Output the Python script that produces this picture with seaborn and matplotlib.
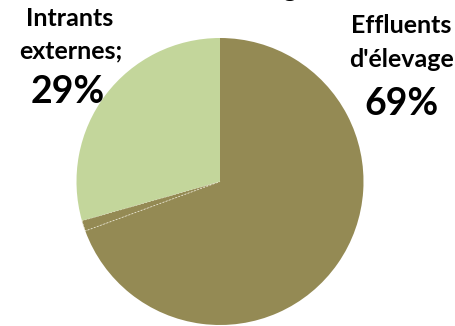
import matplotlib
matplotlib.use("Agg")
import matplotlib.pyplot as plt
import seaborn as sns

# Share of organic nitrogen by origin (percent)
categories = ["Effluents d'élevage", "Autres", "Intrants externes"]
shares = [69.4, 1.2, 29.4]
colors = ["#948A54", "#948A54", "#C3D69B"]

sns.set_theme(style="white")
plt.rcParams["font.family"] = ["Lato", "DejaVu Sans"]

fig = plt.figure(figsize=(4.55, 3.26), dpi=100)
W, H = 455, 326
cx, cy, r = 220, 181.5, 143.5
ax = fig.add_axes([(cx - r) / W, (H - cy - r) / H, 2 * r / W, 2 * r / H])

wedges, _ = ax.pie(shares, colors=colors, startangle=90, counterclock=False,
                   wedgeprops=dict(linewidth=0))
wedges[1].set_edgecolor("#E8E4CF")
wedges[1].set_linewidth(0.6)
wedges[1].set_linestyle((0, (2, 2)))
ax.set_xlim(-1, 1)
ax.set_ylim(-1, 1)
ax.set_aspect("equal")
ax.axis("off")


def put(x, y, s, size):
    fig.text(x / W, 1 - y / H, s, ha="center", va="baseline",
             fontsize=size, fontweight="bold", color="black")


put(70, 26, "Intrants", 18)
put(71, 58, "externes;", 18)
put(68, 103, f"{shares[2]:.0f}%", 27)

put(401, 33, "Effluents", 18)
put(401, 67, "d'élevage", 18)
put(402, 115, f"{shares[0]:.0f}%", 27)

# Title sits above the visible area; only a descender remains in frame
fig.text(290 / W, 1 + 4 / H, "g", ha="center", va="baseline",
         fontsize=20, fontweight="bold", color="black")

fig.savefig("out.png", dpi=100)
